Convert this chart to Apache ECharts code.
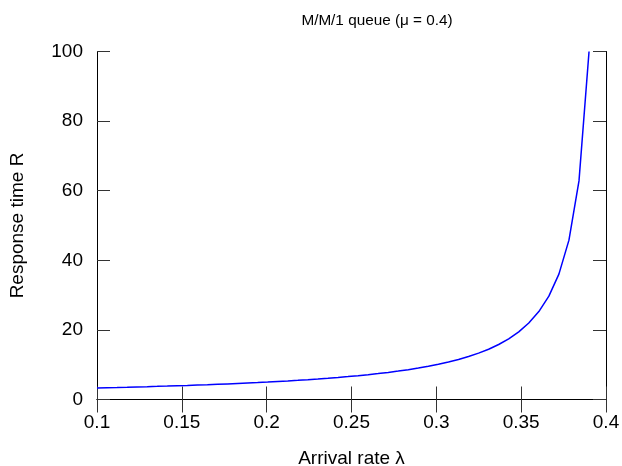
<!DOCTYPE html>
<html>
<head>
<meta charset="utf-8">
<script src="https://cdn.jsdelivr.net/npm/echarts@6/dist/echarts.min.js"></script>
<style>html,body{margin:0;padding:0;background:#fff;}#c{width:622px;height:466px;}</style>
</head>
<body>
<div id="c"></div>
<script>
var arrivalRate = [0.1, 0.10592, 0.11184, 0.11776, 0.12367, 0.12959, 0.13551, 0.14143, 0.14735, 0.15327,
  0.15918, 0.1651, 0.17102, 0.17694, 0.18286, 0.18878, 0.19469, 0.20061, 0.20653, 0.21245,
  0.21837, 0.22429, 0.2302, 0.23612, 0.24204, 0.24796, 0.25388, 0.2598, 0.26571, 0.27163,
  0.27755, 0.28347, 0.28939, 0.29531, 0.30122, 0.30714, 0.31306, 0.31898, 0.3249, 0.33082,
  0.33673, 0.34265, 0.34857, 0.35449, 0.36041, 0.36633, 0.37224, 0.37816, 0.38408, 0.39];
var responseTime = [3.333, 3.400, 3.470, 3.543, 3.619, 3.698, 3.781, 3.867, 3.958, 4.053,
  4.153, 4.257, 4.367, 4.483, 4.605, 4.734, 4.871, 5.015, 5.169, 5.332,
  5.506, 5.691, 5.889, 6.102, 6.331, 6.577, 6.844, 7.132, 7.447, 7.790,
  8.167, 8.581, 9.041, 9.552, 10.124, 10.769, 11.502, 12.343, 13.315, 14.454,
  15.806, 17.438, 19.444, 21.973, 25.258, 29.697, 36.029, 45.794, 62.821, 100];
var titleText = 'M/M/1 queue (\u03bc = 0.4)';
var xName = 'Arrival rate \u03bb';
var yName = 'Response time R';

var font = 'Liberation Sans, Arial, sans-serif';
var fs = 19;
var pts = arrivalRate.map(function (x, i) { return [x, responseTime[i]]; });
var tickStyle = { show: true, inside: true, length: 13, lineStyle: { color: '#333', width: 1 } };
var lineStyle = { show: true, lineStyle: { color: '#000', width: 1 } };

var chart = echarts.init(document.getElementById('c'));
chart.setOption({
  animation: false,
  title: {
    text: titleText, left: 372, top: 8, textAlign: 'center',
    textStyle: { fontFamily: font, fontSize: 15.3, fontWeight: 'normal', color: '#000' }
  },
  grid: { left: 97, right: 16, top: 51.5, bottom: 66.5, outerBoundsMode: 'none', containLabel: false },
  xAxis: [{
    type: 'value', min: 0.1, max: 0.4, interval: 0.05, position: 'bottom',
    name: xName, nameLocation: 'middle', nameGap: 50,
    nameTextStyle: { fontFamily: font, fontSize: fs, color: '#000' },
    axisLine: lineStyle, axisTick: tickStyle, splitLine: { show: false },
    axisLabel: { fontFamily: font, fontSize: fs, color: '#000', margin: 14 }
  }, {
    type: 'value', min: 0.1, max: 0.4, interval: 0.05, position: 'top',
    axisLine: lineStyle, axisTick: tickStyle, splitLine: { show: false },
    axisLabel: { show: false }
  }],
  yAxis: [{
    type: 'value', min: 0, max: 100, interval: 20, position: 'left',
    name: yName, nameLocation: 'middle', nameGap: 70,
    nameTextStyle: { fontFamily: font, fontSize: fs, color: '#000' },
    axisLine: lineStyle, axisTick: tickStyle, splitLine: { show: false },
    axisLabel: { fontFamily: font, fontSize: fs, color: '#000', margin: 14 }
  }, {
    type: 'value', min: 0, max: 100, interval: 20, position: 'right',
    axisLine: lineStyle, axisTick: tickStyle, splitLine: { show: false },
    axisLabel: { show: false }
  }],
  series: [{
    type: 'line', data: pts, showSymbol: false, xAxisIndex: 0, yAxisIndex: 0,
    lineStyle: { color: '#0000ff', width: 1.5 }
  }]
});
</script>
</body>
</html>
